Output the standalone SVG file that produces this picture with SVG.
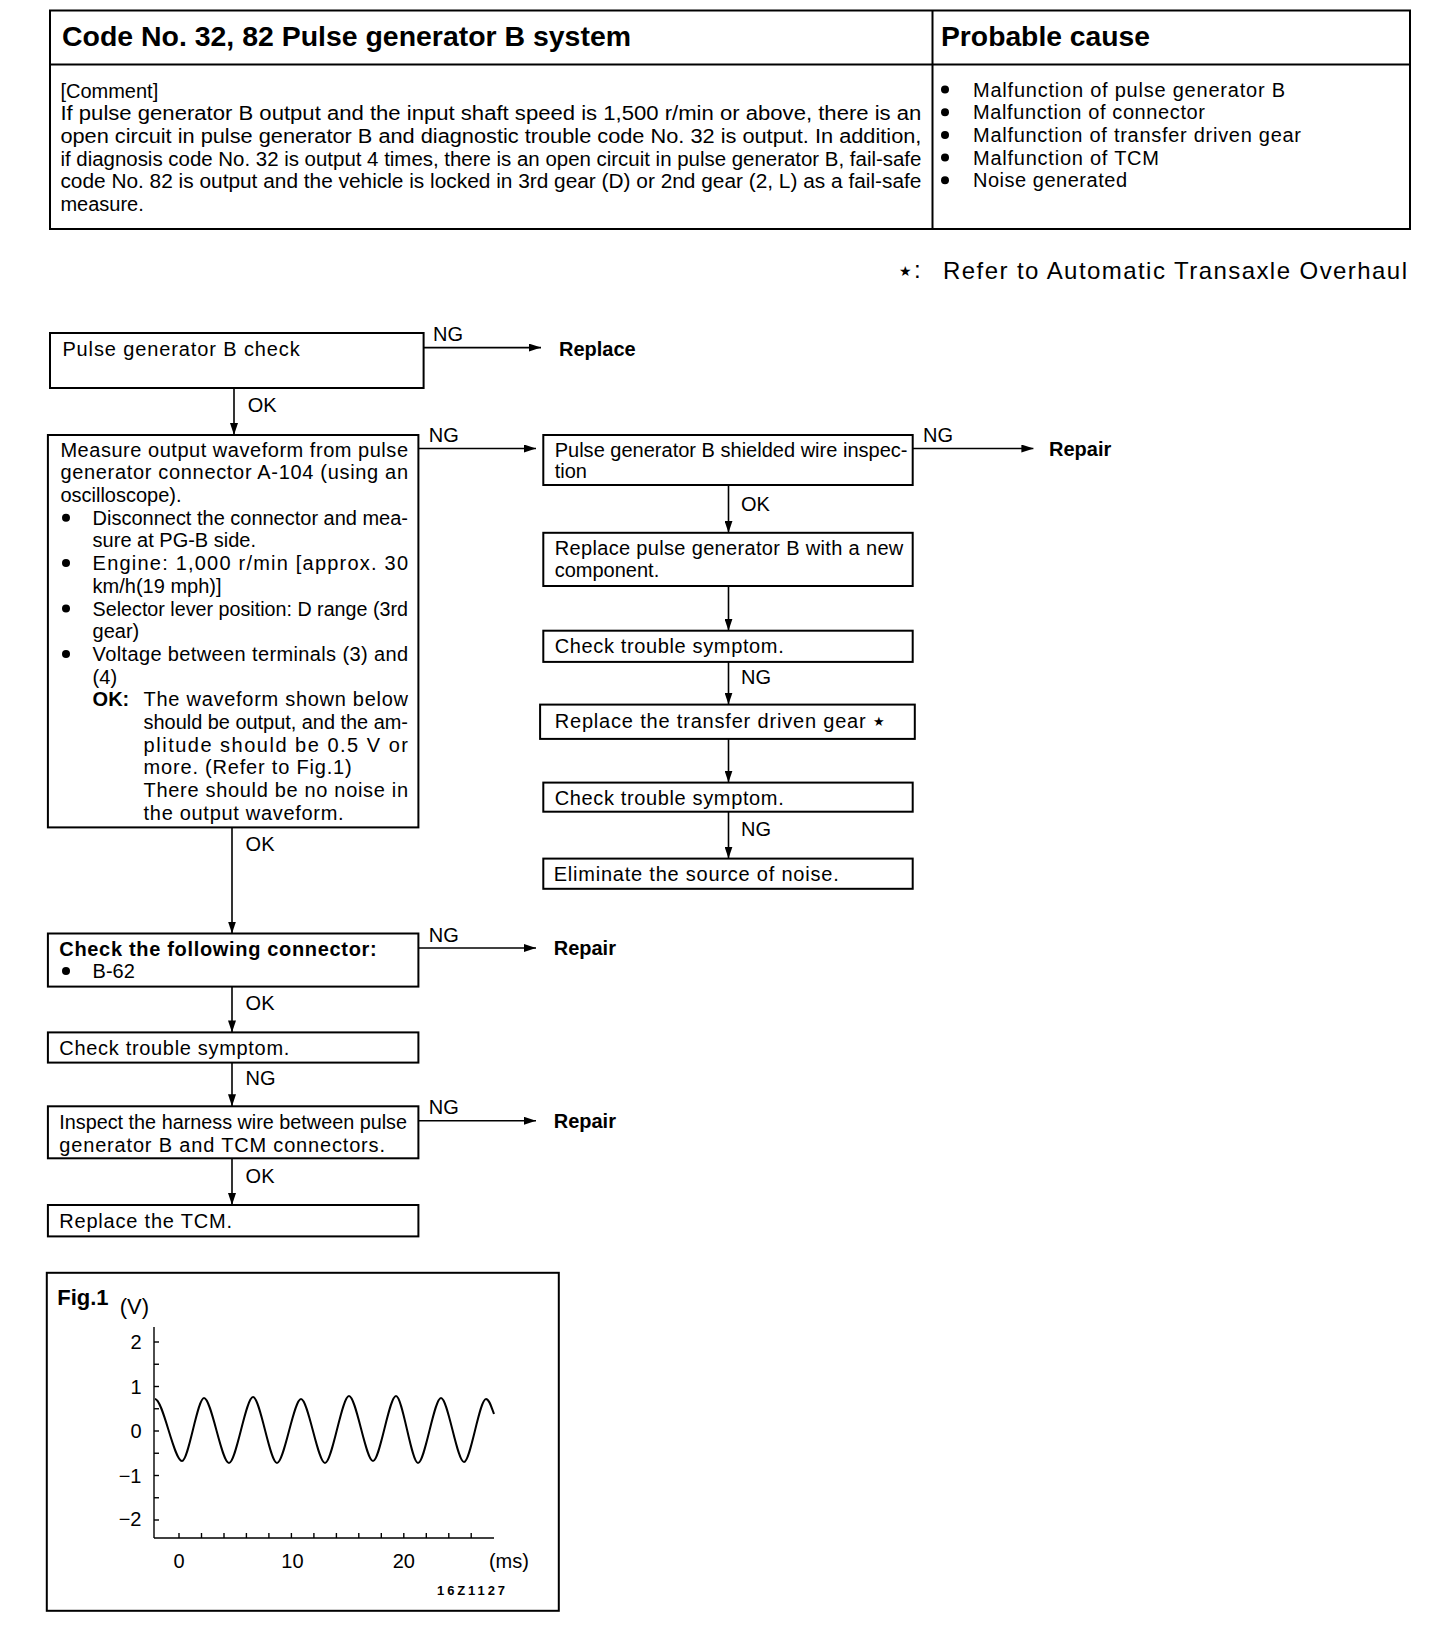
<svg xmlns="http://www.w3.org/2000/svg" width="1456" height="1632" viewBox="0 0 1456 1632">
<style>
text { font-family: "Liberation Sans", Arial, sans-serif; font-size: 20px; fill: #000; }
.b { font-weight: bold; }
.title { font-size: 28px; font-weight: bold; }
.box { fill: #fff; stroke: #000; stroke-width: 2; }
.ln { stroke: #000; stroke-width: 1.6; fill: none; }
.frame { fill: none; stroke: #000; stroke-width: 2; }
.dot { fill: #000; }
.ax { stroke: #000; stroke-width: 1.4; fill: none; }
.wave { stroke: #000; stroke-width: 2; fill: none; }
.sm { font-size: 13px; font-weight: bold; }
</style>
<defs>
<marker id="ah" markerWidth="12" markerHeight="8" refX="12" refY="4" orient="auto" markerUnits="userSpaceOnUse">
<path d="M0,0 L12,4 L0,8 z" fill="#000"/>
</marker>
</defs>
<rect width="1456" height="1632" fill="#fff"/>

<g id="header-table">
<rect class="frame" x="50" y="10.5" width="1360" height="218.5"/>
<line class="frame" x1="50" y1="64.5" x2="1410" y2="64.5"/>
<line class="frame" x1="932.5" y1="10.5" x2="932.5" y2="229"/>
<text class="title" x="62" y="46" textLength="569" lengthAdjust="spacingAndGlyphs">Code No. 32, 82 Pulse generator B system</text>
<text class="title" x="941" y="46" textLength="209" lengthAdjust="spacingAndGlyphs">Probable cause</text>
<text x="60.4" y="97.5">[Comment]</text>
<text x="60.4" y="120.2" textLength="861" lengthAdjust="spacingAndGlyphs">If pulse generator B output and the input shaft speed is 1,500 r/min or above, there is an</text>
<text x="60.4" y="142.9" textLength="861" lengthAdjust="spacingAndGlyphs">open circuit in pulse generator B and diagnostic trouble code No. 32 is output.  In addition,</text>
<text x="60.4" y="165.6" textLength="861" lengthAdjust="spacingAndGlyphs">if diagnosis code No. 32 is output 4 times, there is an open circuit in pulse generator B, fail-safe</text>
<text x="60.4" y="188.3" textLength="861" lengthAdjust="spacingAndGlyphs">code No. 82 is output and the vehicle is locked in 3rd gear (D) or 2nd gear (2, L) as a fail-safe</text>
<text x="60.4" y="211">measure.</text>
<circle class="dot" cx="945" cy="89.5" r="4"/>
<circle class="dot" cx="945" cy="112.2" r="4"/>
<circle class="dot" cx="945" cy="134.9" r="4"/>
<circle class="dot" cx="945" cy="157.6" r="4"/>
<circle class="dot" cx="945" cy="180.3" r="4"/>
<text x="973" y="96.5" textLength="312" lengthAdjust="spacing">Malfunction of pulse generator B</text>
<text x="973" y="119.2" textLength="232" lengthAdjust="spacing">Malfunction of connector</text>
<text x="973" y="141.9" textLength="328" lengthAdjust="spacing">Malfunction of transfer driven gear</text>
<text x="973" y="164.6" textLength="186" lengthAdjust="spacing">Malfunction of TCM</text>
<text x="973" y="187.3" textLength="154" lengthAdjust="spacing">Noise generated</text>
</g>

<g id="note">
<text x="899" y="276" style="font-size:14px">★</text>
<text x="914" y="278" style="font-size:24px">:</text>
<text x="943" y="278.5" style="font-size:24px" textLength="464" lengthAdjust="spacing">Refer to Automatic Transaxle Overhaul</text>
</g>

<g id="connectors">
<line class="ln" x1="423.6" y1="347.6" x2="541" y2="347.6" marker-end="url(#ah)"/>
<line class="ln" x1="234" y1="388" x2="234" y2="435" marker-end="url(#ah)"/>
<line class="ln" x1="418.4" y1="448.5" x2="536" y2="448.5" marker-end="url(#ah)"/>
<line class="ln" x1="912.7" y1="448.5" x2="1033.4" y2="448.5" marker-end="url(#ah)"/>
<line class="ln" x1="728.5" y1="485" x2="728.5" y2="532.8" marker-end="url(#ah)"/>
<line class="ln" x1="728.5" y1="586" x2="728.5" y2="630.7" marker-end="url(#ah)"/>
<line class="ln" x1="728.5" y1="661.9" x2="728.5" y2="704.6" marker-end="url(#ah)"/>
<line class="ln" x1="728.5" y1="738.9" x2="728.5" y2="782.6" marker-end="url(#ah)"/>
<line class="ln" x1="728.5" y1="811.7" x2="728.5" y2="858.6" marker-end="url(#ah)"/>
<line class="ln" x1="232" y1="827.4" x2="232" y2="933.5" marker-end="url(#ah)"/>
<line class="ln" x1="418.4" y1="948" x2="536" y2="948" marker-end="url(#ah)"/>
<line class="ln" x1="232" y1="986.6" x2="232" y2="1032.4" marker-end="url(#ah)"/>
<line class="ln" x1="232" y1="1062.6" x2="232" y2="1106.3" marker-end="url(#ah)"/>
<line class="ln" x1="418.4" y1="1120.8" x2="536" y2="1120.8" marker-end="url(#ah)"/>
<line class="ln" x1="232" y1="1158.3" x2="232" y2="1205" marker-end="url(#ah)"/>
<text x="433" y="341">NG</text>
<text x="247.7" y="411.8">OK</text>
<text x="428.8" y="442">NG</text>
<text x="923" y="442">NG</text>
<text x="741" y="510.7">OK</text>
<text x="741" y="683.5">NG</text>
<text x="741" y="836.4">NG</text>
<text x="245.6" y="851">OK</text>
<text x="428.8" y="941.6">NG</text>
<text x="245.6" y="1010.2">OK</text>
<text x="245.6" y="1085.2">NG</text>
<text x="428.8" y="1114.3">NG</text>
<text x="245.6" y="1183">OK</text>
</g>

<g id="result-replace"><text class="b" x="559" y="355.6">Replace</text></g>
<g id="result-repair-1"><text class="b" x="1049" y="455.5">Repair</text></g>
<g id="result-repair-2"><text class="b" x="553.7" y="955">Repair</text></g>
<g id="result-repair-3"><text class="b" x="553.7" y="1128">Repair</text></g>

<g id="n1">
<rect class="box" x="50" y="333" width="373.6" height="55"/>
<text x="62.4" y="355.6" textLength="237.3" lengthAdjust="spacing">Pulse generator B check</text>
</g>

<g id="n2">
<rect class="box" x="47.9" y="435" width="370.5" height="392.4"/>
<text x="60.4" y="456.6" textLength="347.6" lengthAdjust="spacing">Measure output waveform from pulse</text>
<text x="60.4" y="479.3" textLength="347.6" lengthAdjust="spacing">generator connector A-104 (using an</text>
<text x="60.4" y="502">oscilloscope).</text>
<circle class="dot" cx="66" cy="517.7" r="4"/>
<text x="92.6" y="524.7" textLength="315.4" lengthAdjust="spacingAndGlyphs">Disconnect the connector and mea-</text>
<text x="92.6" y="547.4">sure at PG-B side.</text>
<circle class="dot" cx="66" cy="563.1" r="4"/>
<text x="92.6" y="570.1" textLength="315.4" lengthAdjust="spacing">Engine: 1,000 r/min [approx. 30</text>
<text x="92.6" y="592.8">km/h(19 mph)]</text>
<circle class="dot" cx="66" cy="608.5" r="4"/>
<text x="92.6" y="615.5" textLength="315.4" lengthAdjust="spacingAndGlyphs">Selector lever position: D range (3rd</text>
<text x="92.6" y="638.2">gear)</text>
<circle class="dot" cx="66" cy="653.9" r="4"/>
<text x="92.6" y="660.9" textLength="315.4" lengthAdjust="spacing">Voltage between terminals (3) and</text>
<text x="92.6" y="683.6">(4)</text>
<text class="b" x="92.6" y="706.3">OK:</text>
<text x="143.6" y="706.3" textLength="264.4" lengthAdjust="spacing">The waveform shown below</text>
<text x="143.6" y="729" textLength="264.4" lengthAdjust="spacingAndGlyphs">should be output, and the am-</text>
<text x="143.6" y="751.7" textLength="264.4" lengthAdjust="spacing">plitude should be 0.5 V or</text>
<text x="143.6" y="774.4" textLength="208" lengthAdjust="spacing">more. (Refer to Fig.1)</text>
<text x="143.6" y="797.1" textLength="264.4" lengthAdjust="spacing">There should be no noise in</text>
<text x="143.6" y="819.8" textLength="200" lengthAdjust="spacing">the output waveform.</text>
</g>

<g id="n3">
<rect class="box" x="543.3" y="435" width="369.4" height="50"/>
<text x="554.7" y="456.6" textLength="352.8" lengthAdjust="spacingAndGlyphs">Pulse generator B shielded wire inspec-</text>
<text x="554.7" y="478.4">tion</text>
</g>

<g id="n4">
<rect class="box" x="543.3" y="532.8" width="369.4" height="53.2"/>
<text x="554.7" y="555.4" textLength="348.6" lengthAdjust="spacing">Replace pulse generator B with a new</text>
<text x="554.7" y="577.3">component.</text>
</g>

<g id="n5">
<rect class="box" x="543.3" y="630.7" width="369.4" height="31.2"/>
<text x="554.7" y="653.3" textLength="229" lengthAdjust="spacing">Check trouble symptom.</text>
</g>

<g id="n6">
<rect class="box" x="540.1" y="704.6" width="374.7" height="34.3"/>
<text x="554.7" y="728.2" textLength="311" lengthAdjust="spacing">Replace the transfer driven gear</text>
<text x="873" y="726" style="font-size:13px">★</text>
</g>

<g id="n7">
<rect class="box" x="543.3" y="782.6" width="369.4" height="29.1"/>
<text x="554.7" y="805.2" textLength="229" lengthAdjust="spacing">Check trouble symptom.</text>
</g>

<g id="n8">
<rect class="box" x="543.3" y="858.6" width="369.4" height="30.2"/>
<text x="553.7" y="881.2" textLength="285" lengthAdjust="spacing">Eliminate the source of noise.</text>
</g>

<g id="n9">
<rect class="box" x="47.9" y="933.5" width="370.5" height="53.1"/>
<text class="b" x="59.3" y="956.1" textLength="317.4" lengthAdjust="spacing">Check the following connector:</text>
<circle class="dot" cx="66" cy="971" r="4"/>
<text x="92.6" y="978">B-62</text>
</g>

<g id="n10">
<rect class="box" x="47.9" y="1032.4" width="370.5" height="30.2"/>
<text x="59.3" y="1055" textLength="230" lengthAdjust="spacing">Check trouble symptom.</text>
</g>

<g id="n11">
<rect class="box" x="47.9" y="1106.3" width="370.5" height="52"/>
<text x="59.3" y="1128.9" textLength="347.7" lengthAdjust="spacingAndGlyphs">Inspect the harness wire between pulse</text>
<text x="59.3" y="1151.8" textLength="325.7" lengthAdjust="spacing">generator B and TCM connectors.</text>
</g>

<g id="n12">
<rect class="box" x="47.9" y="1205" width="370.5" height="31.4"/>
<text x="59.3" y="1227.7" textLength="172.7" lengthAdjust="spacing">Replace the TCM.</text>
</g>

<g id="fig1">
<rect class="frame" x="46.8" y="1272.8" width="512" height="338"/>
<text class="b" x="57.2" y="1304.5" style="font-size:22px">Fig.1</text>
<text x="119.7" y="1314" style="font-size:22px">(V)</text>
<line class="ax" x1="154" y1="1327" x2="154" y2="1538"/>
<line class="ax" x1="154" y1="1538" x2="494" y2="1538"/>
<g class="ax">
<line x1="154" y1="1342" x2="159" y2="1342"/>
<line x1="154" y1="1364.25" x2="159" y2="1364.25"/>
<line x1="154" y1="1386.5" x2="159" y2="1386.5"/>
<line x1="154" y1="1408.75" x2="159" y2="1408.75"/>
<line x1="154" y1="1431" x2="159" y2="1431"/>
<line x1="154" y1="1453.25" x2="159" y2="1453.25"/>
<line x1="154" y1="1475.5" x2="159" y2="1475.5"/>
<line x1="154" y1="1497.75" x2="159" y2="1497.75"/>
<line x1="154" y1="1520" x2="159" y2="1520"/>
<line x1="179" y1="1538" x2="179" y2="1533"/>
<line x1="201.5" y1="1538" x2="201.5" y2="1533"/>
<line x1="224" y1="1538" x2="224" y2="1533"/>
<line x1="246.4" y1="1538" x2="246.4" y2="1533"/>
<line x1="268.9" y1="1538" x2="268.9" y2="1533"/>
<line x1="291.4" y1="1538" x2="291.4" y2="1533"/>
<line x1="313.9" y1="1538" x2="313.9" y2="1533"/>
<line x1="336.4" y1="1538" x2="336.4" y2="1533"/>
<line x1="358.8" y1="1538" x2="358.8" y2="1533"/>
<line x1="381.3" y1="1538" x2="381.3" y2="1533"/>
<line x1="403.8" y1="1538" x2="403.8" y2="1533"/>
<line x1="426.3" y1="1538" x2="426.3" y2="1533"/>
<line x1="448.8" y1="1538" x2="448.8" y2="1533"/>
<line x1="471.2" y1="1538" x2="471.2" y2="1533"/>
</g>
<text x="141.5" y="1348.5" text-anchor="end">2</text>
<text x="141.5" y="1394.3" text-anchor="end">1</text>
<text x="141.5" y="1438" text-anchor="end">0</text>
<text x="141.5" y="1482.7" text-anchor="end">−1</text>
<text x="141.5" y="1526.4" text-anchor="end">−2</text>
<text x="179" y="1568" text-anchor="middle">0</text>
<text x="292.4" y="1568" text-anchor="middle">10</text>
<text x="403.8" y="1568" text-anchor="middle">20</text>
<text x="508.9" y="1568" text-anchor="middle">(ms)</text>
<path class="wave" d="M155,1399 C163.1,1399 173.9,1461 182,1461 C188.6,1461 197.4,1398 204,1398 C211.5,1398 221.5,1463 229,1463 C236.2,1463 245.8,1397 253,1397 C260.2,1397 269.8,1463 277,1463 C284.2,1463 293.8,1399 301,1399 C308.2,1399 317.8,1463 325,1463 C332.2,1463 341.8,1396 349,1396 C356.2,1396 365.8,1461 373,1461 C379.9,1461 389.1,1396 396,1396 C402.6,1396 411.4,1463 418,1463 C424.9,1463 434.1,1398 441,1398 C447.9,1398 457.1,1462 464,1462 C470.6,1462 479.4,1399 486,1399 C489,1399 491,1406 494,1414"/>
<text class="sm" x="437" y="1595" textLength="68" lengthAdjust="spacing">16Z1127</text>
</g>
</svg>
